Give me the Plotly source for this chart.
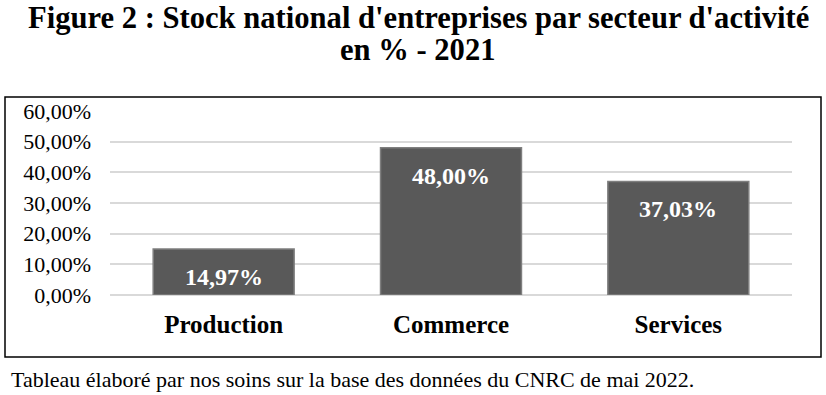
import plotly.graph_objects as go

categories = ["Production", "Commerce", "Services"]
values = [0.1497, 0.4800, 0.3703]
tick_vals = [0, 0.1, 0.2, 0.3, 0.4, 0.5, 0.6]
title_lines = ["Figure 2 : Stock national d'entreprises par secteur d'activité", "en % - 2021"]
footnote = "Tableau élaboré par nos soins sur la base des données du CNRC de mai 2022."

W, H = 826, 395
L, R, T, B = 110, 792, 111, 295  # plot area in pixels

def px_x(p):
    return (p - L) / (R - L)

def px_y(p):
    return (B - p) / (B - T)

SERIF = "Liberation Serif, Times New Roman, serif"

fig = go.Figure()
fig.add_trace(go.Bar(
    x=categories, y=values,
    marker=dict(color="#595959", line=dict(color="#7f7f7f", width=1.5)),
    hoverinfo="skip",
))

for c, v in zip(categories, values):
    fig.add_annotation(
        x=c, y=v, xref="x", yref="y",
        text="<b>%s</b>" % (f"{v*100:.2f}".replace(".", ",") + "%"),
        showarrow=False, yanchor="middle", yshift=-28,
        font=dict(family=SERIF, size=24, color="white"),
    )

for txt, yc in zip(title_lines, [18, 50]):
    fig.add_annotation(
        x=px_x(418), y=px_y(yc), xref="paper", yref="paper",
        xanchor="center", yanchor="middle", showarrow=False,
        text="<b>%s</b>" % txt, borderpad=0,
        font=dict(family=SERIF, size=30.6, color="black"),
    )

fig.add_annotation(
    x=px_x(9), y=px_y(379), xref="paper", yref="paper",
    xanchor="left", yanchor="middle", showarrow=False,
    text=footnote,
    font=dict(family=SERIF, size=22, color="black"),
)

fig.add_shape(
    type="rect", xref="paper", yref="paper",
    x0=px_x(5), x1=px_x(821), y0=px_y(357), y1=px_y(97),
    line=dict(color="black", width=1.5), layer="below",
)

fig.update_layout(
    width=W, height=H,
    margin=dict(l=L, r=W - R, t=T, b=H - B, pad=0),
    paper_bgcolor="white", plot_bgcolor="white",
    separators=", ",
    showlegend=False,
    bargap=0.38,
    xaxis=dict(
        showgrid=False, showline=False, zeroline=False,
        tickfont=dict(family=SERIF, size=25, color="black"),
        ticklabelstandoff=12,
        tickprefix="<b>", ticksuffix="</b>",
        fixedrange=True,
    ),
    yaxis=dict(
        range=[0, 0.6], tickvals=tick_vals, tickformat=".2%",
        showgrid=True, gridcolor="#d9d9d9", gridwidth=2,
        zeroline=True, zerolinecolor="#d9d9d9", zerolinewidth=2,
        showline=False,
        tickfont=dict(family=SERIF, size=22, color="black"),
        ticklabelstandoff=18,
        fixedrange=True,
    ),
)

fig.write_html(
    "out.html",
    config={"displayModeBar": False, "staticPlot": True},
    post_script="document.body.style.margin='0';document.body.style.overflow='hidden';",
)
